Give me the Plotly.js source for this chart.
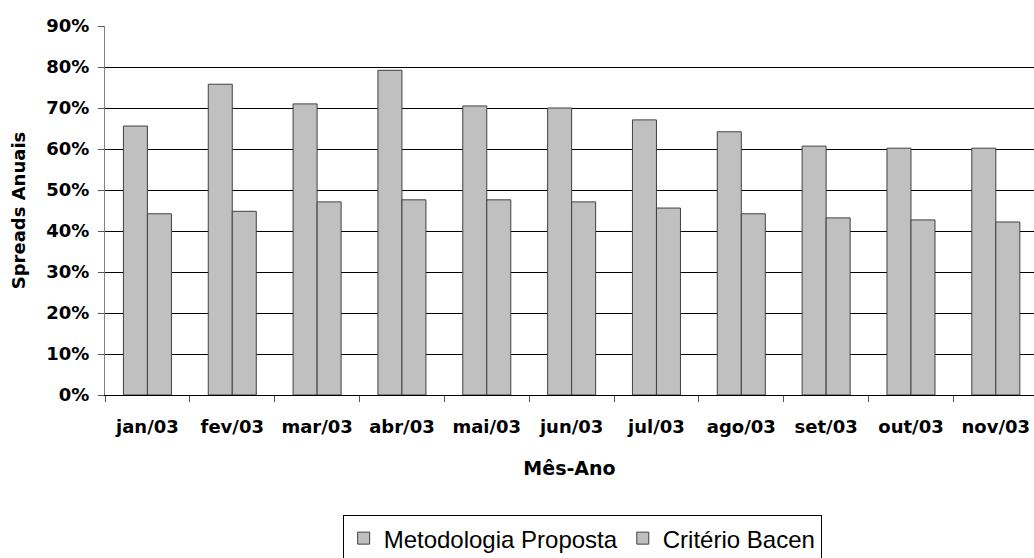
<!DOCTYPE html>
<html>
<head>
<meta charset="utf-8">
<script src="https://cdn.plot.ly/plotly-3.0.1.min.js"></script>
<style>
  html, body { margin: 0; padding: 0; background: #ffffff; }
  #chart { width: 1034px; height: 558px; }
</style>
</head>
<body>
<div id="chart"></div>
<script>
// Months of 2003
const months = ['jan/03', 'fev/03', 'mar/03', 'abr/03', 'mai/03', 'jun/03',
                'jul/03', 'ago/03', 'set/03', 'out/03', 'nov/03'];

// Annual spreads (fractions) for each method
const metodologiaProposta = [0.656, 0.758, 0.710, 0.792, 0.705, 0.700,
                             0.671, 0.642, 0.607, 0.602, 0.602];
const criterioBacen       = [0.442, 0.448, 0.471, 0.476, 0.476, 0.471,
                             0.456, 0.442, 0.432, 0.427, 0.422];

const seriesNames = ['Metodologia Proposta', 'Critério Bacen'];
const yTitle = 'Spreads Anuais';
const xTitle = 'Mês-Ano';

const boldFont = { family: 'DejaVu Sans', weight: 'bold', color: '#000000' };

const barStyle = { color: '#c0c0c0', line: { color: '#404040', width: 1 } };

const traces = [
  { type: 'bar', name: seriesNames[0], x: months, y: metodologiaProposta,
    marker: barStyle, hoverinfo: 'x+y' },
  { type: 'bar', name: seriesNames[1], x: months, y: criterioBacen,
    marker: barStyle, hoverinfo: 'x+y' }
];

const layout = {
  width: 1034,
  height: 558,
  margin: { l: 105, r: 0, t: 26, b: 163 },
  paper_bgcolor: '#ffffff',
  plot_bgcolor: '#ffffff',
  barmode: 'group',
  bargap: 0.434,
  bargroupgap: 0,
  showlegend: true,
  xaxis: {
    type: 'category',
    range: [-0.5, 10.45],
    tickson: 'boundaries',
    ticks: 'outside',
    ticklen: 6,
    tickcolor: '#555555',
    showline: true,
    linecolor: '#000000',
    linewidth: 1,
    showgrid: false,
    zeroline: false,
    ticklabelstandoff: 15,
    tickfont: Object.assign({ size: 18 }, boldFont),
    title: { text: xTitle, font: Object.assign({ size: 19 }, boldFont), standoff: 26 }
  },
  yaxis: {
    range: [0, 0.9],
    dtick: 0.1,
    tick0: 0,
    tickformat: '.0%',
    ticks: 'outside',
    ticklen: 6,
    tickcolor: '#555555',
    showline: true,
    linecolor: '#808080',
    linewidth: 1,
    showgrid: true,
    gridcolor: '#000000',
    gridwidth: 1,
    zeroline: false,
    ticklabelstandoff: 5,
    tickfont: Object.assign({ size: 18 }, boldFont),
    title: { text: yTitle, font: Object.assign({ size: 18 }, boldFont), standoff: 16 }
  },
  legend: {
    orientation: 'h',
    xref: 'container',
    yref: 'container',
    x: 0.563,
    xanchor: 'center',
    y: 0.077,
    yanchor: 'top',
    bgcolor: '#ffffff',
    bordercolor: '#000000',
    borderwidth: 1,
    font: { family: 'Liberation Sans, Arial, sans-serif', size: 24, color: '#000000' }
  }
};

Plotly.newPlot('chart', traces, layout, { displayModeBar: false, staticPlot: true });
</script>
</body>
</html>
